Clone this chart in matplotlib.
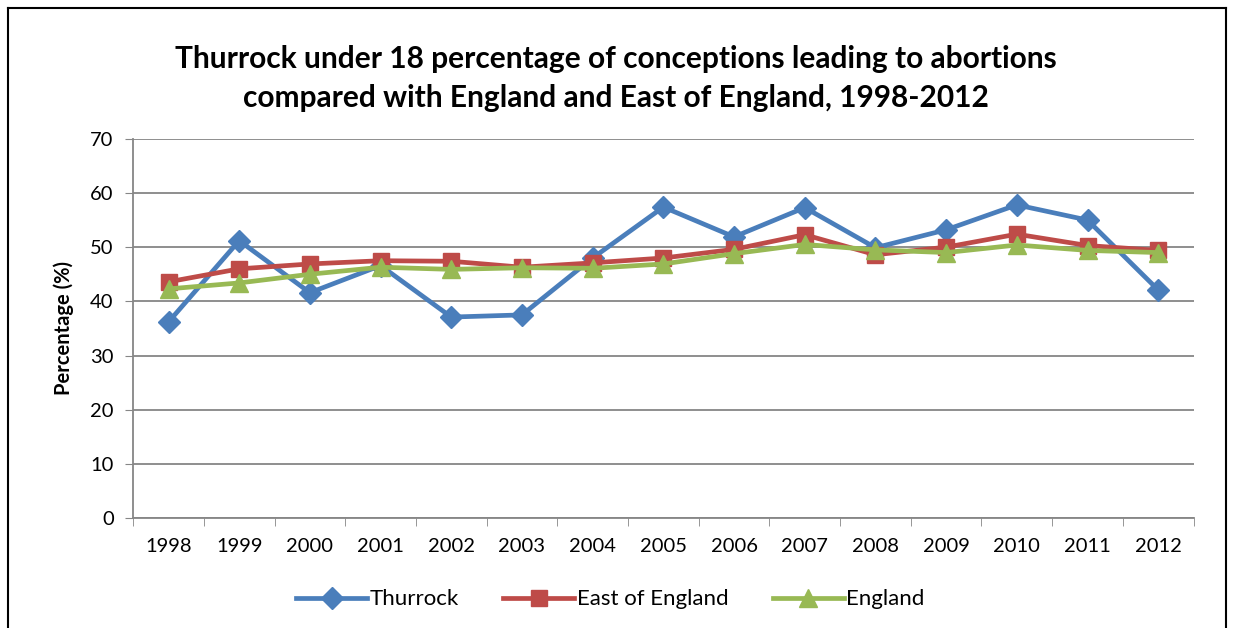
import numpy as np
import matplotlib.pyplot as plt
from matplotlib.lines import Line2D

plt.rcParams['font.family'] = ['Lato', 'DejaVu Sans']

years = ['1998', '1999', '2000', '2001', '2002', '2003', '2004', '2005',
         '2006', '2007', '2008', '2009', '2010', '2011', '2012']
thurrock = [36.2, 51.2, 41.6, 46.6, 37.1, 37.5, 48.0, 57.4,
            51.9, 57.3, 49.9, 53.2, 57.8, 55.0, 42.1]
east_of_england = [43.6, 46.0, 46.9, 47.5, 47.4, 46.3, 47.1, 48.0,
                   49.6, 52.3, 48.6, 50.0, 52.4, 50.3, 49.4]
england = [42.3, 43.4, 45.0, 46.3, 45.9, 46.2, 46.1, 46.9,
           48.8, 50.5, 49.5, 49.0, 50.4, 49.4, 49.0]

fig = plt.figure(figsize=(12.33, 6.28), dpi=100)
ax = fig.add_axes([0.108, 0.175, 0.86, 0.604])

x = np.arange(len(years))
ax.plot(x, thurrock, color='#4A7EBB', lw=3.4, marker='D', ms=11, label='Thurrock')
ax.plot(x, east_of_england, color='#BE4B48', lw=3.4, marker='s', ms=12, label='East of England')
ax.plot(x, england, color='#98B954', lw=3.4, marker='^', ms=13, label='England')

ax.set_xlim(-0.5, len(years) - 0.5)
ax.set_ylim(0, 70)
ax.set_yticks(range(0, 71, 10))
ax.set_xticks(x)
ax.set_xticklabels(years)
ax.set_xticks(np.arange(-0.5, len(years)), minor=True)
ax.tick_params(axis='x', which='major', length=0, pad=14, labelsize=14.5)
ax.tick_params(axis='x', which='minor', length=6, color='#868686')
ax.tick_params(axis='y', length=6, color='#868686', labelsize=14.5, pad=8)
ax.grid(axis='y', color='#868686', lw=1.3)
ax.set_axisbelow(True)
for s in ['top', 'right']:
    ax.spines[s].set_visible(False)
for s in ['left', 'bottom']:
    ax.spines[s].set_color('#868686')
    ax.spines[s].set_linewidth(1.3)

ax.set_ylabel('Percentage (%)', fontsize=14.5, fontweight='bold', labelpad=12)

fig.text(0.4995, 0.875, 'Thurrock under 18 percentage of conceptions leading to abortions\n'
         'compared with England and East of England, 1998-2012',
         ha='center', va='center', fontsize=21.5, fontweight='bold', linespacing=1.45)

ax.legend(loc='upper center', bbox_to_anchor=(0.45, -0.135), ncol=3, frameon=False,
          fontsize=16, handlelength=3.2, handletextpad=0.1, columnspacing=2.0)

# outer frame around the chart
for xs, ys in [([0.0065, 0.0065], [0, 0.987]), ([0.0065, 0.9945], [0.987, 0.987]),
               ([0.9945, 0.9945], [0, 0.987])]:
    fig.add_artist(Line2D(xs, ys, color='black', lw=1.5, transform=fig.transFigure))

fig.savefig('out.png', dpi=100)
